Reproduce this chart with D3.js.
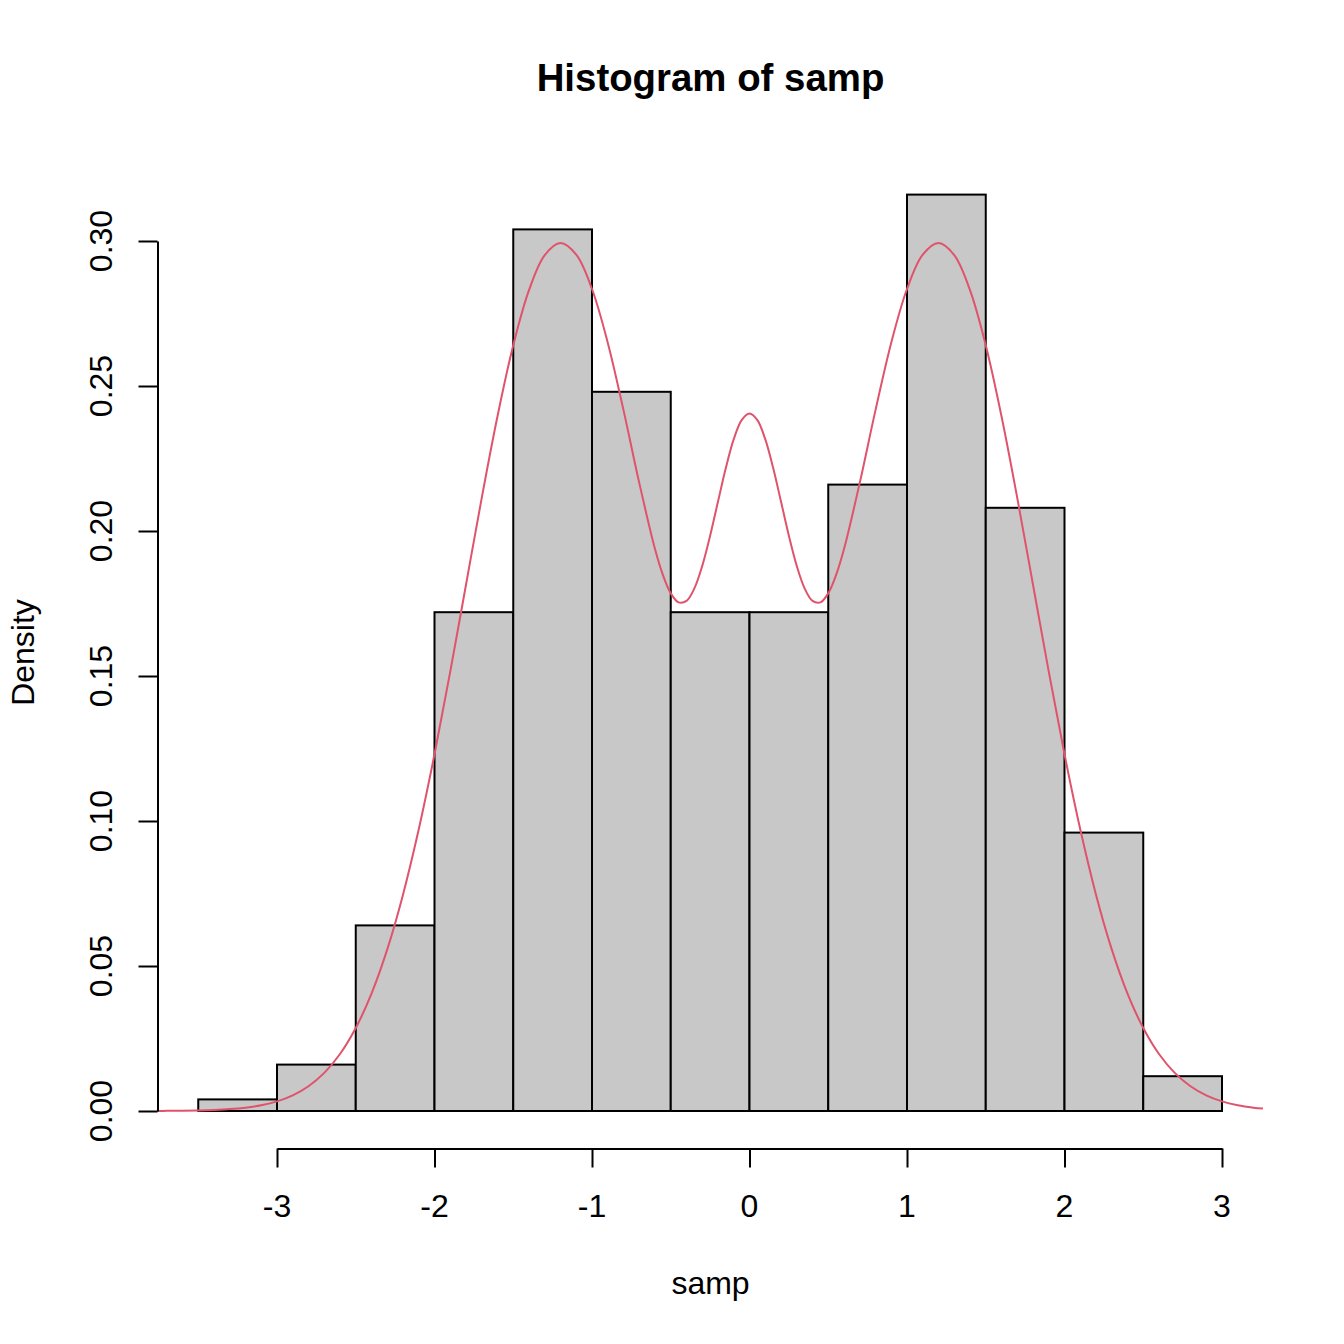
<!DOCTYPE html>
<html>
<head>
<meta charset="utf-8">
<script src="https://cdn.jsdelivr.net/npm/d3@7"></script>
<style>
  html, body { margin: 0; padding: 0; background: #ffffff; }
  svg { display: block; font-family: "Liberation Sans", Arial, Helvetica, sans-serif; }
</style>
</head>
<body>
<svg id="chart" width="1344" height="1344"></svg>
<script>
// ---- data ----
const breaks = [-3.5, -3, -2.5, -2, -1.5, -1, -0.5, 0, 0.5, 1, 1.5, 2, 2.5, 3];
const densities = [0.004, 0.016, 0.064, 0.172, 0.304, 0.248, 0.172, 0.172, 0.216, 0.316, 0.208, 0.096, 0.012];
const xTicks = [-3, -2, -1, 0, 1, 2, 3];
const xTickLabels = ["-3", "-2", "-1", "0", "1", "2", "3"];
const yTicks = [0, 0.05, 0.10, 0.15, 0.20, 0.25, 0.30];
const yTickLabels = ["0.00", "0.05", "0.10", "0.15", "0.20", "0.25", "0.30"];
const curveX = [-3.76, -3.7, -3.6, -3.5, -3.4, -3.3, -3.2, -3.1, -3.0, -2.9, -2.8, -2.7, -2.6, -2.5, -2.4, -2.3, -2.2, -2.1, -2.0,
  -1.9, -1.8, -1.7, -1.6, -1.5, -1.4, -1.3, -1.2, -1.1, -1.0, -0.9, -0.8, -0.7, -0.6, -0.55, -0.5, -0.45, -0.4, -0.35, -0.3,
  -0.25, -0.2, -0.15, -0.1, -0.05, 0, 0.05, 0.1, 0.15, 0.2, 0.25, 0.3, 0.35, 0.4, 0.45, 0.5, 0.55, 0.6, 0.7, 0.8, 0.9, 1.0,
  1.1, 1.2, 1.3, 1.4, 1.5, 1.6, 1.7, 1.8, 1.9, 2.0, 2.1, 2.2, 2.3, 2.4, 2.5, 2.6, 2.7, 2.8, 2.9, 3.0, 3.1, 3.2, 3.26];
const curveY = [0.00003, 0.00005, 0.00010, 0.00019, 0.00036, 0.00065, 0.00116, 0.00199, 0.00332, 0.00541, 0.00855, 0.01315, 0.01966, 0.02862, 0.04049, 0.05573, 0.07461, 0.09714, 0.12300,
  0.15150, 0.18147, 0.21144, 0.23958, 0.26406, 0.28306, 0.29513, 0.29930, 0.29528, 0.28345, 0.26495, 0.24169, 0.21660, 0.19376, 0.18484, 0.17851, 0.17538, 0.17592, 0.18021, 0.18796,
  0.19835, 0.21015, 0.22180, 0.23166, 0.23825, 0.24056, 0.23825, 0.23166, 0.22180, 0.21015, 0.19835, 0.18796, 0.18021, 0.17592, 0.17538, 0.17851, 0.18484, 0.19376, 0.21660, 0.24169, 0.26495, 0.28345,
  0.29528, 0.29930, 0.29513, 0.28306, 0.26406, 0.23958, 0.21144, 0.18147, 0.15150, 0.12300, 0.09714, 0.07461, 0.05573, 0.04049, 0.02862, 0.01966, 0.01315, 0.00855, 0.00541, 0.00332, 0.00199, 0.00116, 0.00083];
const titleText = "Histogram of samp";
const xLabel = "samp";
const yLabel = "Density";

// ---- scales ----
const x = d3.scaleLinear().domain([-3, 3]).range([277, 1222]);
const y = d3.scaleLinear().domain([0, 0.3]).range([1111, 241]);

const svg = d3.select("#chart");
svg.append("rect").attr("width", 1344).attr("height", 1344).attr("fill", "#ffffff");

// ---- bars ----
const bins = densities.map((d, i) => ({ x0: breaks[i], x1: breaks[i + 1], d }));
svg.append("g").selectAll("rect").data(bins).join("rect")
  .attr("x", b => x(b.x0))
  .attr("y", b => y(b.d))
  .attr("width", b => x(b.x1) - x(b.x0))
  .attr("height", b => y(0) - y(b.d))
  .attr("fill", "#c8c8c8")
  .attr("stroke", "#000000")
  .attr("stroke-width", 2);

// ---- density curve ----
const pts = curveX.map((v, i) => [v, curveY[i]]);
svg.append("path")
  .datum(pts)
  .attr("fill", "none")
  .attr("stroke", "#DF536B")
  .attr("stroke-width", 2)
  .attr("d", d3.line().x(p => x(p[0])).y(p => y(p[1])).curve(d3.curveCatmullRom.alpha(0.5)));

// ---- x axis ----
const xAxisY = 1148.5;
const gx = svg.append("g").attr("transform", `translate(0,${xAxisY})`)
  .call(d3.axisBottom(x).tickValues(xTicks).tickSize(19).tickSizeOuter(0).tickFormat(() => ""));
gx.select(".domain").attr("stroke", "#000").attr("stroke-width", 2);
gx.selectAll(".tick line").attr("stroke", "#000").attr("stroke-width", 2);
gx.selectAll(".tick text").remove();
svg.append("g").selectAll("text").data(xTicks).join("text")
  .attr("x", d => x(d))
  .attr("y", 1217)
  .attr("text-anchor", "middle")
  .attr("font-size", 32)
  .attr("fill", "#000")
  .text((d, i) => xTickLabels[i]);

// ---- y axis ----
const yAxisX = 157.5;
const gy = svg.append("g").attr("transform", `translate(${yAxisX},0)`)
  .call(d3.axisLeft(y).tickValues(yTicks).tickSize(19).tickSizeOuter(0).tickFormat(() => ""));
gy.select(".domain").attr("stroke", "#000").attr("stroke-width", 2);
gy.selectAll(".tick line").attr("stroke", "#000").attr("stroke-width", 2);
gy.selectAll(".tick text").remove();
svg.append("g").selectAll("text").data(yTicks).join("text")
  .attr("transform", d => `translate(111.5,${y(d)}) rotate(-90)`)
  .attr("text-anchor", "middle")
  .attr("font-size", 32)
  .attr("fill", "#000")
  .text((d, i) => yTickLabels[i]);

// ---- titles ----
svg.append("text")
  .attr("x", 710.5).attr("y", 91)
  .attr("text-anchor", "middle")
  .attr("font-size", 38.4)
  .attr("font-weight", "bold")
  .attr("fill", "#000")
  .text(titleText);

svg.append("text")
  .attr("x", 710.5).attr("y", 1294)
  .attr("text-anchor", "middle")
  .attr("font-size", 32)
  .attr("fill", "#000")
  .text(xLabel);

svg.append("text")
  .attr("transform", `translate(33.5,652.5) rotate(-90)`)
  .attr("text-anchor", "middle")
  .attr("font-size", 32)
  .attr("fill", "#000")
  .text(yLabel);
</script>
</body>
</html>
